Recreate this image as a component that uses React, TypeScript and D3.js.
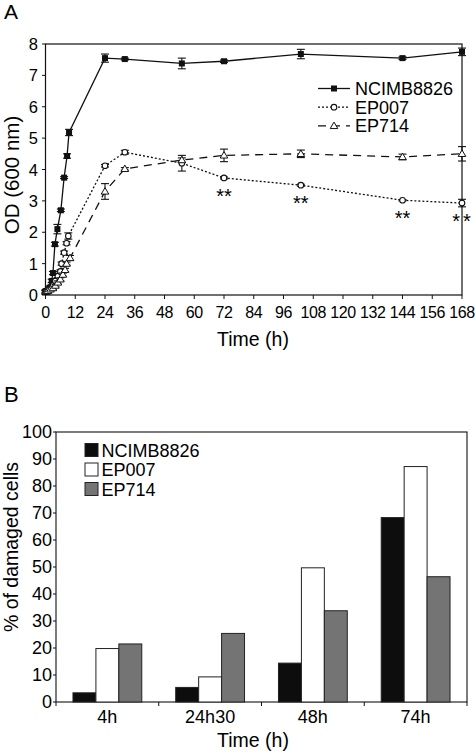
import React from "react";
import * as d3 from "d3";

const ncimbTime = [0, 0.5, 1, 1.5, 2, 2.5, 3, 3.8, 4.8, 6.2, 7.5, 8.7, 9.5, 24, 32, 55, 72, 103, 144, 168];
const ncimbOD = [0.12, 0.13, 0.15, 0.2, 0.25, 0.45, 0.7, 1.62, 2.1, 2.7, 3.74, 4.43, 5.18, 7.55, 7.52, 7.38, 7.45, 7.68, 7.55, 7.75];
const ncimbErr = [0.05, 0.05, 0.05, 0.05, 0.05, 0.05, 0.05, 0.06, 0.15, 0.04, 0.03, 0.07, 0.1, 0.13, 0.03, 0.17, 0.04, 0.15, 0.04, 0.12];

const ep007Time = [0, 0.5, 1, 2, 3, 4, 5, 6, 6.5, 7.5, 8.5, 9.2, 24, 32, 55, 72, 103, 144, 168];
const ep007OD = [0.1, 0.12, 0.15, 0.2, 0.3, 0.45, 0.6, 0.75, 1.0, 1.35, 1.65, 1.88, 4.12, 4.55, 4.2, 3.73, 3.5, 3.02, 2.93];
const ep007Err = [0.04, 0.04, 0.04, 0.04, 0.04, 0.05, 0.05, 0.05, 0.05, 0.05, 0.05, 0.1, 0.04, 0.06, 0.25, 0.03, 0.03, 0.02, 0.12];

const ep714Time = [0, 0.5, 1, 2, 3, 4, 5, 6, 7, 7.9, 8.5, 9.9, 24, 32, 55, 72, 103, 144, 168];
const ep714OD = [0.1, 0.12, 0.13, 0.18, 0.22, 0.3, 0.4, 0.5, 0.65, 0.8, 1.0, 1.18, 3.3, 4.02, 4.3, 4.45, 4.5, 4.4, 4.5];
const ep714Err = [0.04, 0.04, 0.04, 0.04, 0.04, 0.04, 0.05, 0.05, 0.05, 0.05, 0.05, 0.08, 0.25, 0.04, 0.07, 0.2, 0.12, 0.09, 0.23];

const starTimes = [72, 103, 144, 168];
const xTicksA = d3.range(0, 169, 12);
const yTicksA = d3.range(0, 9, 1);

const barCategories = ["4h", "24h30", "48h", "74h"];
const barNCIMB = [3.4, 5.4, 14.4, 68.3];
const barEP007 = [19.8, 9.3, 49.7, 87.2];
const barEP714 = [21.5, 25.4, 33.8, 46.4];
const yTicksB = d3.range(0, 101, 10);

const seriesNames = ["NCIMB8826", "EP007", "EP714"];
const FONT = "Liberation Sans, Arial, sans-serif";

export default function App() {
  // Panel A
  const xA = d3.scaleLinear().domain([0, 168]).range([45.5, 462]);
  const yA = d3.scaleLinear().domain([0, 8]).range([295, 44]);
  const line = d3.line<[number, number]>().x((d) => xA(d[0])).y((d) => yA(d[1]));
  const zip = (t: number[], v: number[]) => t.map((tt, i) => [tt, v[i]] as [number, number]);

  const series = [
    { t: ncimbTime, v: ncimbOD, e: ncimbErr, dash: undefined, marker: "square" },
    { t: ep007Time, v: ep007OD, e: ep007Err, dash: "2,2", marker: "circle" },
    { t: ep714Time, v: ep714OD, e: ep714Err, dash: "8,6", marker: "triangle" },
  ];

  const marker = (kind: string, x: number, y: number, key: string) => {
    if (kind === "square")
      return <rect key={key} x={x - 3} y={y - 3} width={6} height={6} fill="#111" />;
    if (kind === "circle")
      return <circle key={key} cx={x} cy={y} r={2.8} fill="#fff" stroke="#111" strokeWidth={1.1} />;
    const s = 3.8;
    return (
      <path key={key} d={`M${x},${y - s}L${x + s},${y + s * 0.7}L${x - s},${y + s * 0.7}Z`} fill="#fff" stroke="#111" strokeWidth={1} />
    );
  };

  // Panel B
  const xB = d3.scaleBand().domain(barCategories).range([56, 467]);
  const inner = d3.scaleBand().domain(seriesNames).range([0, xB.bandwidth()]).paddingInner(0).paddingOuter(0.74);
  const yB = d3.scaleLinear().domain([0, 100]).range([702, 432]);
  const barSeries = [
    { name: "NCIMB8826", vals: barNCIMB, fill: "#0d0d0d" },
    { name: "EP007", vals: barEP007, fill: "#ffffff" },
    { name: "EP714", vals: barEP714, fill: "#747474" },
  ];

  return (
    <svg width={475} height={753} style={{ position: "absolute", left: 0, top: 0, background: "#fff" }} fontFamily={FONT}>
      <rect width={475} height={753} fill="#fff" />
      {/* Panel A */}
      <text x={4} y={19} fontSize={21}>A</text>
      <rect x={45.5} y={44} width={462 - 45.5} height={251} fill="none" stroke="#111" strokeWidth={1.2} />
      {yTicksA.map((t) => (
        <g key={"ya" + t}>
          <line x1={42} x2={45.5} y1={yA(t)} y2={yA(t)} stroke="#111" />
          <text x={38} y={yA(t) + 6} fontSize={16.5} textAnchor="end">{t}</text>
        </g>
      ))}
      {xTicksA.map((t) => (
        <g key={"xa" + t}>
          <line x1={xA(t)} x2={xA(t)} y1={295} y2={299} stroke="#111" />
          <text x={xA(t)} y={318} fontSize={16} textAnchor="middle" letterSpacing={-0.4}>{t}</text>
        </g>
      ))}
      <text x={253} y={346} fontSize={19.5} textAnchor="middle">Time (h)</text>
      <text transform={`translate(19,${175}) rotate(-90)`} fontSize={20.5} textAnchor="middle">OD (600 nm)</text>

      {series.map((s, si) => (
        <g key={"s" + si}>
          <path d={line(zip(s.t, s.v)) || ""} fill="none" stroke="#111" strokeWidth={1.3} strokeDasharray={s.dash} />
          {s.t.map((t, i) => {
            const x = xA(t);
            const y1 = yA(s.v[i] - s.e[i]);
            const y2 = yA(s.v[i] + s.e[i]);
            return (
              <g key={"e" + i} stroke="#111" strokeWidth={1.1}>
                <line x1={x} x2={x} y1={y1} y2={y2} />
                <line x1={x - 4} x2={x + 4} y1={y1} y2={y1} />
                <line x1={x - 4} x2={x + 4} y1={y2} y2={y2} />
              </g>
            );
          })}
          {s.t.map((t, i) => marker(s.marker, xA(t), yA(s.v[i]), "m" + i))}
        </g>
      ))}
      {starTimes.map((t) => {
        const i = ep007Time.indexOf(t);
        return (
          <text key={"st" + t} x={xA(t) + (t === 168 ? 1 : 0)} y={yA(ep007OD[i]) + 25} fontSize={20} textAnchor="middle" letterSpacing={t === 168 ? 3 : 0}>**</text>
        );
      })}

      {/* Legend A */}
      {series.map((s, i) => {
        const y = 88.5 + i * 18.7;
        return (
          <g key={"la" + i}>
            <line x1={318} x2={350} y1={y} y2={y} stroke="#111" strokeWidth={1.3} strokeDasharray={s.dash} />
            {marker(s.marker, 334, y, "lm" + i)}
            <text x={355} y={y + 6.5} fontSize={18}>{seriesNames[i]}</text>
          </g>
        );
      })}

      {/* Panel B */}
      <text x={4} y={402} fontSize={22}>B</text>
      <rect x={56} y={432} width={411} height={270} fill="none" stroke="#111" strokeWidth={1.1} />
      {yTicksB.map((t) => (
        <g key={"yb" + t}>
          <line x1={53} x2={56} y1={yB(t)} y2={yB(t)} stroke="#111" />
          <text x={52} y={yB(t) + 6.3} fontSize={18} textAnchor="end">{t}</text>
        </g>
      ))}
      {[...barCategories.map((c) => xB(c) as number), 467].map((x, i) => (
        <line key={"xbt" + i} x1={x} x2={x} y1={702} y2={706} stroke="#111" />
      ))}
      {barCategories.map((c) => (
        <text key={"xbl" + c} x={(xB(c) as number) + xB.bandwidth() / 2} y={723} fontSize={18} textAnchor="middle">{c}</text>
      ))}
      <text x={253} y={747} fontSize={19.5} textAnchor="middle">Time (h)</text>
      <text transform={`translate(18,${547}) rotate(-90)`} fontSize={19.5} textAnchor="middle">% of damaged cells</text>

      {barSeries.map((s) => (
        <g key={"bs" + s.name}>
          {barCategories.map((c, i) => (
            <rect
              key={c}
              x={(xB(c) as number) + (inner(s.name) as number)}
              y={yB(s.vals[i])}
              width={inner.bandwidth()}
              height={702 - yB(s.vals[i])}
              fill={s.fill}
              stroke="#222"
              strokeWidth={1}
            />
          ))}
        </g>
      ))}

      {/* Legend B */}
      {barSeries.map((s, i) => {
        const y = 450 + i * 19.5;
        return (
          <g key={"lb" + i}>
            <rect x={85} y={y - 6.5} width={13} height={13} fill={s.fill} stroke="#222" strokeWidth={1} />
            <text x={101.5} y={y + 6.5} fontSize={18}>{s.name}</text>
          </g>
        );
      })}
    </svg>
  );
}
